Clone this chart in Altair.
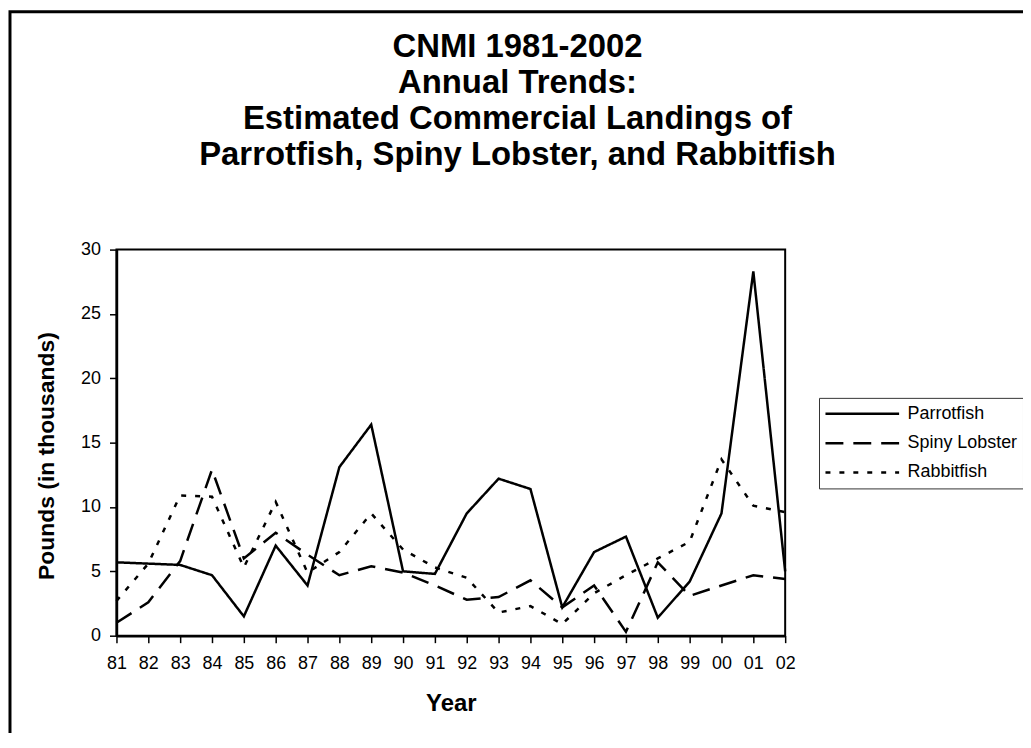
import altair as alt
import pandas as pd

years = ["81", "82", "83", "84", "85", "86", "87", "88", "89", "90", "91",
         "92", "93", "94", "95", "96", "97", "98", "99", "00", "01", "02"]
parrotfish = [5.7, 5.6, 5.5, 4.7, 1.5, 7.0, 3.9, 13.1, 16.4, 5.0, 4.8,
              9.5, 12.2, 11.4, 2.2, 6.5, 7.7, 1.4, 4.2, 9.5, 28.3, 5.0]
spiny_lobster = [1.0, 2.6, 5.8, 12.9, 6.0, 8.0, 6.3, 4.7, 5.4, 4.9, 3.9,
                 2.8, 3.0, 4.3, 2.2, 3.9, 0.3, 5.7, 3.1, 3.9, 4.7, 4.4]
rabbitfish = [2.7, 5.6, 10.9, 10.8, 5.3, 10.4, 4.9, 6.5, 9.5, 6.7, 5.3,
              4.5, 1.8, 2.3, 0.9, 3.3, 4.7, 6.0, 7.3, 13.7, 10.1, 9.6]
species = ["Parrotfish", "Spiny Lobster", "Rabbitfish"]
y_ticks = [0, 5, 10, 15, 20, 25, 30]
title_text = ("CNMI 1981-2002\nAnnual Trends:\nEstimated Commercial Landings of\n"
              "Parrotfish, Spiny Lobster, and Rabbitfish")

rows = []
for name, vals in zip(species, [parrotfish, spiny_lobster, rabbitfish]):
    for yr, v in zip(years, vals):
        rows.append({"Year": yr, "Pounds": v, "Species": name})
df = pd.DataFrame(rows)

FONT = "Liberation Sans"

lines = alt.Chart(df).mark_line(color="black", strokeWidth=2.5).encode(
    x=alt.X("Year:O", sort=years,
            scale=alt.Scale(type="point", padding=0),
            axis=alt.Axis(title="Year", labelAngle=0, tickSize=7, labelPadding=12,
                          labelFontSize=18, labelFont=FONT, labelColor="black",
                          titleFontSize=24, titleFont=FONT, titleFontWeight="bold",
                          titleColor="black", titleY=68, titleBaseline="middle",
                          domainColor="black", domainWidth=2.5,
                          tickColor="black", tickWidth=1.5, grid=False)),
    y=alt.Y("Pounds:Q", scale=alt.Scale(domain=[0, 30]),
            axis=alt.Axis(title="Pounds (in thousands)", values=y_ticks, tickSize=7,
                          labelPadding=9, labelFontSize=18, labelFont=FONT,
                          labelColor="black", titleFontSize=23, titleFont=FONT,
                          titleFontWeight="bold", titleColor="black",
                          titleX=-70, titleY=207, titleAngle=270,
                          titleAlign="center", titleBaseline="middle",
                          domainColor="black", domainWidth=2.5,
                          tickColor="black", tickWidth=1.5, grid=False)),
    strokeDash=alt.StrokeDash(
        "Species:N",
        scale=alt.Scale(domain=species, range=[[1, 0], [18, 10], [5, 9]]),
        legend=alt.Legend(orient="none", legendX=706, legendY=149, title=None,
                          symbolType="stroke", symbolSize=5476,
                          symbolStrokeWidth=2.5, symbolStrokeColor="black",
                          clipHeight=22, rowPadding=7.5, padding=5,
                          labelOffset=7, labelFontSize=18, labelFont=FONT,
                          labelColor="black", labelLimit=300,
                          strokeColor="#333", fillColor="white", cornerRadius=0)),
)

title = alt.Chart().mark_text(
    lineBreak="\n", align="center", baseline="alphabetic", fontSize=33,
    fontWeight="bold", font=FONT, lineHeight=36.5, color="black"
).encode(x=alt.value(403), y=alt.value(-194), text=alt.value(title_text))

frame = alt.Chart().mark_rect(
    fill=None, stroke="black", strokeWidth=3
).encode(x=alt.value(-107), x2=alt.value(1000), y=alt.value(-239), y2=alt.value(700))

chart = alt.layer(frame, lines, title).properties(
    width=672, height=388,
    autosize="none",
    padding={"left": 109, "top": 241, "right": 239, "bottom": 96},
    background="white",
).configure_view(stroke="black", strokeWidth=2)

chart.save("out.html", embed_options={"renderer": "svg", "actions": False})
